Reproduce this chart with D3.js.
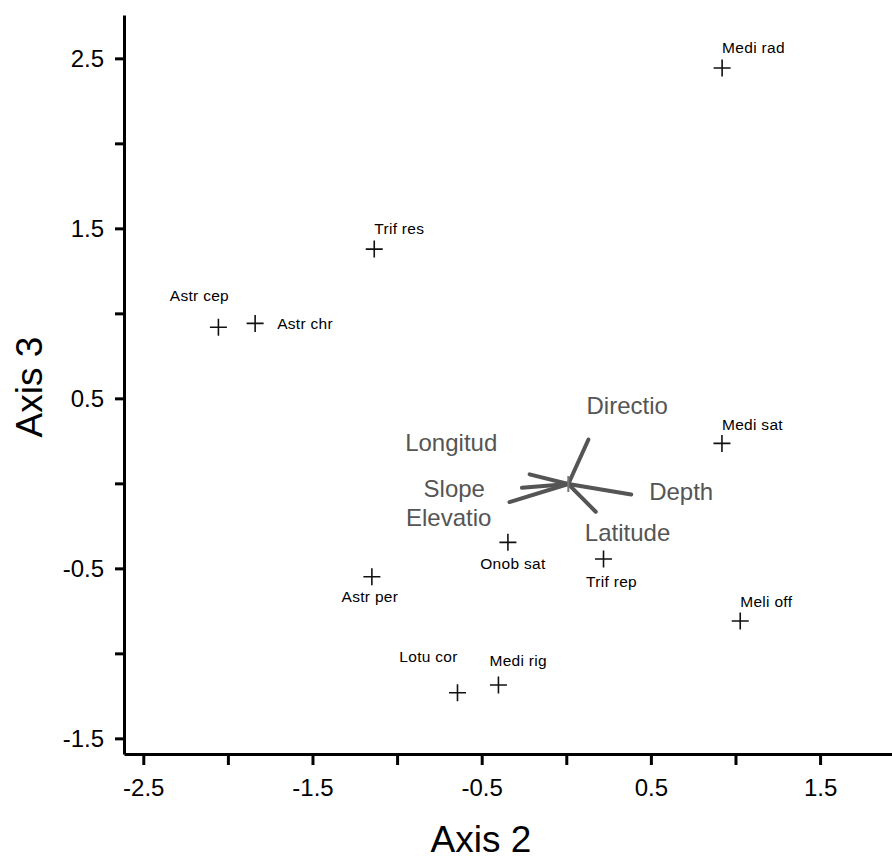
<!DOCTYPE html>
<html>
<head>
<meta charset="utf-8">
<script src="https://cdn.jsdelivr.net/npm/d3@7/dist/d3.min.js"></script>
<style>
  html, body { margin: 0; padding: 0; background: #fff; }
  svg text { font-family: "Liberation Sans", Arial, Helvetica, sans-serif; }
</style>
</head>
<body>
<div id="chart"></div>
<script>
// species scores (Axis 2, Axis 3)
var species = ['Medi rad', 'Trif res', 'Astr cep', 'Astr chr', 'Medi sat', 'Onob sat',
               'Trif rep', 'Astr per', 'Meli off', 'Lotu cor', 'Medi rig'];
var axis2 = [0.921, -1.135, -2.056, -1.839, 0.920, -0.345, 0.220, -1.149, 1.028, -0.643, -0.401];
var axis3 = [2.443, 1.378, 0.918, 0.941, 0.235, -0.347, -0.445, -0.549, -0.810, -1.232, -1.186];

// environmental vectors (joint plot)
var vecNames = ['Directio', 'Longitud', 'Slope', 'Elevatio', 'Depth', 'Latitude'];
var vecX = [0.131, -0.217, -0.262, -0.336, 0.384, 0.174];
var vecY = [0.258, 0.053, -0.026, -0.110, -0.065, -0.167];
var vecLabelX = [0.360, -0.680, -0.662, -0.695, 0.679, 0.362];
var vecLabelY = [0.460, 0.237, -0.028, -0.204, -0.051, -0.292];
var vecOrigin = [0.012, -0.004];

var xTicks = [-2.5, -2, -1.5, -1, -0.5, 0, 0.5, 1, 1.5];
var yTicks = [-1.5, -1, -0.5, 0, 0.5, 1, 1.5, 2, 2.5];
var xTickLabels = [-2.5, -1.5, -0.5, 0.5, 1.5];
var yTickLabels = [-1.5, -0.5, 0.5, 1.5, 2.5];

var width = 892, height = 859;
var mLeft = 124, mRight = 892, mTop = 15, mBottom = 754;

var svg = d3.select('#chart').append('svg').attr('width', width).attr('height', height);

var x = d3.scaleLinear().domain([-2.614, 1.925]).range([mLeft, mRight]);
var y = d3.scaleLinear().domain([-1.592, 2.755]).range([mBottom, mTop]);

function labelFor(list) {
    return function (v) {
        return list.indexOf(v) >= 0 ? String(v).replace('\u2212', '-') : '';
    };
}

var xAxis = d3.axisBottom(x).tickValues(xTicks).tickSizeInner(11).tickSizeOuter(0).tickPadding(14)
    .tickFormat(labelFor(xTickLabels));
var yAxis = d3.axisLeft(y).tickValues(yTicks).tickSizeInner(9).tickSizeOuter(0).tickPadding(11)
    .tickFormat(labelFor(yTickLabels));

var gx = svg.append('g').attr('transform', 'translate(0,' + mBottom + ')').call(xAxis);
var gy = svg.append('g').attr('transform', 'translate(' + mLeft + ',0)').call(yAxis);

[gx, gy].forEach(function (g) {
    g.attr('font-family', null).attr('font-size', null);
    g.select('.domain').attr('stroke', '#000').attr('stroke-width', 3);
    g.selectAll('.tick line').attr('stroke', '#000').attr('stroke-width', 3);
    g.selectAll('.tick text').attr('fill', '#000').style('font-size', '24px');
});
gy.selectAll('.tick text').attr('dy', '0.34em');

// axis titles
svg.append('text').attr('x', 481).attr('y', 852).attr('text-anchor', 'middle')
    .style('font-size', '37px').attr('fill', '#000').text('Axis 2');
svg.append('text').attr('transform', 'translate(42,387) rotate(-90)').attr('text-anchor', 'middle')
    .style('font-size', '37px').attr('fill', '#000').text('Axis 3');

// vectors
var vecs = vecNames.map(function (n, i) {
    return { name: n, x: vecX[i], y: vecY[i], lx: vecLabelX[i], ly: vecLabelY[i] };
});
svg.append('g').selectAll('line').data(vecs).enter().append('line')
    .attr('x1', x(vecOrigin[0])).attr('y1', y(vecOrigin[1]))
    .attr('x2', function (d) { return x(d.x); })
    .attr('y2', function (d) { return y(d.y); })
    .attr('stroke', '#555').attr('stroke-width', 4).attr('stroke-linecap', 'round');
// centroid mark
svg.append('line')
    .attr('x1', x(vecOrigin[0])).attr('x2', x(vecOrigin[0]))
    .attr('y1', y(vecOrigin[1]) - 8).attr('y2', y(vecOrigin[1]) + 8)
    .attr('stroke', '#777').attr('stroke-width', 2);

svg.append('g').selectAll('text').data(vecs).enter().append('text')
    .attr('x', function (d) { return x(d.lx); })
    .attr('y', function (d) { return y(d.ly); })
    .attr('dy', '0.35em').attr('text-anchor', 'middle')
    .style('font-size', '24px').attr('fill', '#555')
    .text(function (d) { return d.name; });

// species points
var pts = species.map(function (n, i) { return { name: n, x: axis2[i], y: axis3[i] }; });
var half = 8.5;
var gp = svg.append('g').selectAll('g').data(pts).enter().append('g')
    .attr('transform', function (d) { return 'translate(' + x(d.x) + ',' + y(d.y) + ')'; });
gp.append('path').attr('d', 'M' + (-half) + ',0H' + half + 'M0,' + (-half) + 'V' + half)
    .attr('stroke', '#111').attr('stroke-width', 1.6).attr('fill', 'none');

// label placement relative to each marker
var labelNudge = {
    'Medi rad': ['start', 0, -20], 'Medi sat': ['start', 0, -19], 'Meli off': ['start', 0, -19],
    'Trif res': ['start', 0, -21], 'Astr cep': ['middle', -19, -32], 'Astr chr': ['start', 22, 0],
    'Astr per': ['middle', -2, 20], 'Lotu cor': ['middle', -29, -36], 'Medi rig': ['start', -9, -24],
    'Onob sat': ['middle', 5, 21], 'Trif rep': ['middle', 8, 23]
};
gp.append('text')
    .attr('text-anchor', function (d) { return labelNudge[d.name][0]; })
    .attr('x', function (d) { return labelNudge[d.name][1]; })
    .attr('y', function (d) { return labelNudge[d.name][2]; })
    .attr('dy', '0.35em').style('font-size', '15.5px').style('letter-spacing', '0.3px').attr('fill', '#000')
    .text(function (d) { return d.name; });
</script>
</body>
</html>
